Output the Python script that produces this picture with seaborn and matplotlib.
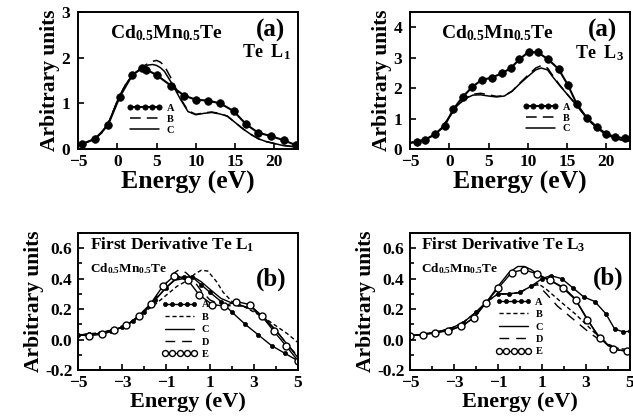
import numpy as np
import pandas as pd
import matplotlib
matplotlib.use("Agg")
import matplotlib.pyplot as plt
import seaborn as sns
from matplotlib.ticker import MultipleLocator, FormatStrFormatter

# ---------------- data: panel (a) Te L1 ----------------
l1_A_E = [-4.5, -2.8, -1.2, 0.3, 1.9, 3.2, 3.7, 5.0, 6.8, 8.5, 10.0, 11.5, 13.1, 14.8, 16.4, 17.9, 19.6, 21.2, 22.8]
l1_A_v = [0.11, 0.22, 0.52, 1.14, 1.62, 1.78, 1.74, 1.62, 1.39, 1.17, 1.08, 1.06, 1.0, 0.83, 0.54, 0.36, 0.28, 0.19, 0.08]
l1_BC_E = [-5, -4, -3, -2, -1, 0, 1, 2, 3, 4, 4.5, 5, 5.5, 6, 7, 8, 9, 10, 11, 12, 13, 14, 15, 16, 17, 18, 19, 20, 21, 22, 23]
l1_C_v = [0.08, 0.14, 0.22, 0.35, 0.62, 1.05, 1.4, 1.62, 1.76, 1.84, 1.85, 1.83, 1.78, 1.7, 1.42, 1.1, 0.82, 0.75, 0.78, 0.8, 0.77, 0.72, 0.58, 0.44, 0.32, 0.22, 0.16, 0.12, 0.08, 0.06, 0.04]
l1_B_v = [0.08, 0.14, 0.22, 0.35, 0.62, 1.05, 1.4, 1.63, 1.78, 1.88, 1.92, 1.94, 1.9, 1.82, 1.5, 1.12, 0.84, 0.76, 0.79, 0.81, 0.78, 0.72, 0.58, 0.44, 0.32, 0.22, 0.16, 0.12, 0.08, 0.06, 0.04]

# ---------------- data: panel (a) Te L3 ----------------
l3_A_E = [-5, -4.15, -3.1, -1.8, -0.6, 0.5, 1.7, 2.9, 4.1, 5.4, 6.7, 7.8, 8.9, 10.1, 11.3, 12.6, 13.9, 15.1, 16.2, 17.5, 18.8, 20.0, 21.1, 22.3, 23]
l3_A_v = [0.2, 0.24, 0.3, 0.49, 0.76, 1.3, 1.71, 2.03, 2.27, 2.34, 2.49, 2.65, 2.94, 3.19, 3.17, 2.94, 2.63, 2.1, 1.49, 1.02, 0.72, 0.49, 0.4, 0.35, 0.33]
l3_BC_E = [-5, -4, -3, -2, -1, 0, 1, 2, 3, 4, 5, 6, 7, 8, 9, 10, 11, 11.7, 12.5, 13.2, 14, 15, 16, 17, 18, 19, 20, 21, 22, 23]
l3_C_v = [0.2, 0.25, 0.32, 0.45, 0.68, 1.05, 1.42, 1.65, 1.77, 1.78, 1.74, 1.71, 1.74, 1.9, 2.15, 2.38, 2.6, 2.66, 2.6, 2.36, 2.1, 1.8, 1.5, 1.18, 0.88, 0.65, 0.47, 0.36, 0.29, 0.25]
l3_B_v = [0.2, 0.25, 0.32, 0.45, 0.68, 1.05, 1.42, 1.66, 1.8, 1.83, 1.78, 1.73, 1.75, 1.9, 2.17, 2.42, 2.66, 2.74, 2.66, 2.4, 2.12, 1.8, 1.5, 1.18, 0.88, 0.65, 0.47, 0.36, 0.29, 0.25]

# ---------------- data: panel (b) first derivative Te L1 ----------------
d1_A_E = [-5, -4.5, -4, -3.5, -3, -2.5, -2, -1.5, -1, -0.5, -0.2, 0.2, 0.6, 1, 1.5, 2, 2.6, 3.2, 3.8, 4.4, 5]
d1_A_v = [0.03, 0.035, 0.04, 0.055, 0.08, 0.12, 0.18, 0.26, 0.34, 0.41, 0.41, 0.41, 0.36, 0.31, 0.25, 0.18, 0.1, 0.03, -0.04, -0.09, -0.14]
d1_B_E = [-5, -4, -3, -2.5, -2, -1.5, -1, -0.5, 0, 0.3, 0.6, 0.9, 1.3, 1.6, 2, 2.5, 3, 3.5, 4, 4.5, 5]
d1_B_v = [0.03, 0.045, 0.08, 0.12, 0.18, 0.23, 0.29, 0.35, 0.39, 0.43, 0.455, 0.45, 0.38, 0.31, 0.25, 0.22, 0.18, 0.14, 0.09, 0.04, -0.02]
d1_C_E = [-5, -4, -3, -2.5, -2, -1.5, -1, -0.6, -0.2, 0.2, 0.6, 1, 1.5, 2, 2.5, 3, 3.5, 4, 4.5, 5]
d1_C_v = [0.03, 0.04, 0.08, 0.12, 0.18, 0.26, 0.34, 0.39, 0.4, 0.415, 0.38, 0.33, 0.27, 0.24, 0.22, 0.2, 0.14, 0.06, -0.03, -0.12]
d1_D_E = [-5, -4, -3, -2.5, -2, -1.5, -1, -0.7, -0.4, -0.1, 0.2, 0.6, 1, 1.5, 2, 2.5, 3, 3.5, 4, 4.5, 5]
d1_D_v = [0.03, 0.04, 0.08, 0.12, 0.18, 0.27, 0.37, 0.43, 0.46, 0.44, 0.4, 0.32, 0.26, 0.23, 0.22, 0.22, 0.19, 0.13, 0.06, -0.03, -0.11]
d1_E_E = [-5, -4.5, -3.9, -3.35, -2.8, -2.25, -1.7, -1.15, -0.62, 0.0, 0.5, 1.1, 1.65, 2.2, 2.8, 3.35, 3.9, 4.45, 5.0]
d1_E_v = [0.03, 0.025, 0.035, 0.06, 0.095, 0.155, 0.235, 0.35, 0.42, 0.39, 0.295, 0.23, 0.22, 0.25, 0.23, 0.155, 0.055, -0.04, -0.14]

# ---------------- data: panel (b) first derivative Te L3 ----------------
d3_A_E = [-5, -4.4, -3.8, -3.2, -2.6, -2, -1.5, -1, -0.5, 0, 0.5, 1, 1.4, 1.9, 2.4, 2.9, 3.4, 3.9, 4.3, 4.7, 5]
d3_A_v = [0.025, 0.035, 0.05, 0.07, 0.11, 0.18, 0.25, 0.3, 0.3, 0.31, 0.35, 0.4, 0.42, 0.4, 0.34, 0.28, 0.25, 0.17, 0.07, 0.05, 0.055]
d3_B_E = [-5, -4.4, -3.8, -3.2, -2.6, -2, -1.5, -1, -0.5, 0, 0.5, 0.8, 1.2, 1.6, 2, 2.5, 3, 3.5, 4, 4.5, 5]
d3_B_v = [0.025, 0.035, 0.05, 0.07, 0.11, 0.18, 0.25, 0.3, 0.3, 0.31, 0.35, 0.37, 0.33, 0.28, 0.23, 0.17, 0.1, 0.03, -0.03, -0.06, -0.065]
d3_D_E = [-5, -4.4, -3.8, -3.2, -2.6, -2, -1.5, -1, -0.5, 0, 0.5, 0.8, 1.2, 1.7, 2.2, 2.7, 3.2, 3.7, 4.2, 4.6, 5]
d3_D_v = [0.025, 0.035, 0.05, 0.07, 0.11, 0.18, 0.25, 0.3, 0.3, 0.31, 0.35, 0.36, 0.3, 0.22, 0.16, 0.1, 0.04, -0.01, -0.05, -0.07, -0.08]
d3_C_E = [-5, -4, -3, -2.5, -2, -1.5, -1, -0.5, -0.1, 0.2, 0.5, 1, 1.5, 2, 2.5, 3, 3.5, 4, 4.5, 5]
d3_C_v = [0.025, 0.04, 0.07, 0.1, 0.16, 0.25, 0.35, 0.44, 0.48, 0.48, 0.46, 0.41, 0.38, 0.34, 0.27, 0.15, 0.03, -0.04, -0.07, -0.075]
d3_E_E = [-5, -4.42, -3.86, -3.26, -2.68, -2.1, -1.56, -0.98, -0.38, 0.18, 0.79, 1.36, 1.94, 2.53, 3.06, 3.64, 4.24, 4.85, 5.0]
d3_E_v = [0.025, 0.033, 0.044, 0.058, 0.09, 0.14, 0.24, 0.34, 0.44, 0.46, 0.43, 0.39, 0.34, 0.26, 0.13, 0.01, -0.065, -0.075, -0.075]

sns.set_theme(style="ticks")
plt.rcParams.update({
    "font.family": ["Liberation Serif", "DejaVu Serif"],
    "font.weight": "bold",
    "axes.labelweight": "bold",
    "mathtext.fontset": "custom",
    "mathtext.rm": "Liberation Serif:bold",
    "mathtext.bf": "Liberation Serif:bold",
    "mathtext.it": "Liberation Serif:bold",
    "axes.linewidth": 1.4,
    "axes.edgecolor": "black",
    "xtick.direction": "in",
    "ytick.direction": "in",
    "xtick.color": "black",
    "ytick.color": "black",
    "text.color": "black",
    "axes.labelcolor": "black",
})

fig = plt.figure(figsize=(6.33, 4.2), dpi=100)
W = 220 / 633
H = 137 / 420
ax1 = fig.add_axes([78 / 633, 1 - 149 / 420, W, H])
ax2 = fig.add_axes([410 / 633, 1 - 149 / 420, W, H])
ax3 = fig.add_axes([78 / 633, 1 - 370 / 420, W, H])
ax4 = fig.add_axes([410 / 633, 1 - 370 / 420, W, H])


def draw(ax, x, y, label, **kw):
    sns.lineplot(x=x, y=y, ax=ax, color="black", label=label, sort=False,
                 estimator=None, **kw)


big_dot = dict(marker="o", markersize=5.5, markerfacecolor="black",
               markeredgecolor="black", markeredgewidth=0.5)
small_dot = dict(marker="o", markersize=3, markerfacecolor="black",
                 markeredgecolor="black", markeredgewidth=0.5)
open_c = dict(marker="o", markersize=5, markerfacecolor="white",
              markeredgecolor="black", markeredgewidth=1.0)

# panel a, L1
draw(ax1, l1_A_E, l1_A_v, "A", linewidth=1.5, **big_dot)
draw(ax1, l1_BC_E, l1_B_v, "B", linewidth=1.1, linestyle=(0, (7, 4)))
draw(ax1, l1_BC_E, l1_C_v, "C", linewidth=1.1)

# panel a, L3
draw(ax2, l3_A_E, l3_A_v, "A", linewidth=1.5, markevery=slice(1, -1), **big_dot)
draw(ax2, l3_BC_E, l3_B_v, "B", linewidth=1.1, linestyle=(0, (7, 4)))
draw(ax2, l3_BC_E, l3_C_v, "C", linewidth=1.1)

# panel b, L1
draw(ax3, d1_A_E, d1_A_v, "A", linewidth=1.0, **small_dot)
draw(ax3, d1_B_E, d1_B_v, "B", linewidth=1.0, linestyle=(0, (3, 2)))
draw(ax3, d1_C_E, d1_C_v, "C", linewidth=1.0)
draw(ax3, d1_D_E, d1_D_v, "D", linewidth=1.0, linestyle=(0, (7, 5)))
draw(ax3, d1_E_E, d1_E_v, "E", linewidth=1.0, markevery=slice(1, None), **open_c)

# panel b, L3
draw(ax4, d3_A_E, d3_A_v, "A", linewidth=1.0, **small_dot)
draw(ax4, d3_B_E, d3_B_v, "B", linewidth=1.0, linestyle=(0, (3, 2)))
draw(ax4, d3_C_E, d3_C_v, "C", linewidth=1.0)
draw(ax4, d3_D_E, d3_D_v, "D", linewidth=1.0, linestyle=(0, (7, 5)))
draw(ax4, d3_E_E, d3_E_v, "E", linewidth=1.0, markevery=slice(0, -1), **open_c)

for ax in (ax1, ax2, ax3, ax4):
    ax.set_ylabel("Arbitrary units", fontsize=15.5, labelpad=1)
    ax.tick_params(which="both", top=False, right=False, labelsize=12.5,
                   width=1.2)
    ax.tick_params(axis="x", pad=3.5)
    ax.tick_params(axis="y", pad=4)
    ax.tick_params(which="major", length=4)
    ax.tick_params(which="minor", length=3)
    for s in ax.spines.values():
        s.set_visible(True)
        s.set_linewidth(1.4)

for ax, top in ((ax1, 3), (ax2, 4.5)):
    ax.set_xlim(-5, 23)
    ax.set_ylim(0, top)
    ax.xaxis.set_major_locator(MultipleLocator(5))
    ax.yaxis.set_major_locator(MultipleLocator(1))
    ax.tick_params(axis="y", pad=5.5)
    ax.set_xlabel("Energy (eV)", fontsize=18.5, labelpad=1)

for ax in (ax3, ax4):
    ax.set_xlim(-5, 5)
    ax.set_ylim(-0.2, 0.7)
    ax.set_xticks([-5, -3, -1, 1, 3, 5])
    ax.xaxis.set_minor_locator(MultipleLocator(1))
    ax.set_yticks([-0.2, 0.0, 0.2, 0.4, 0.6])
    ax.yaxis.set_minor_locator(MultipleLocator(0.1))
    ax.yaxis.set_major_formatter(FormatStrFormatter("%.1f"))
    ax.set_xlabel("Energy (eV)", fontsize=16, labelpad=1)

for ax in (ax1, ax2, ax3, ax4):
    for lab in ax.get_xticklabels() + ax.get_yticklabels():
        lab.set_fontweight("bold")

compound = r"Cd$_{0.5}$Mn$_{0.5}$Te"
ax1.text(0.145, 0.847, compound, transform=ax1.transAxes, fontsize=14, va="center", ha="left")
ax1.text(0.873, 0.863, "(a)", transform=ax1.transAxes, fontsize=18, va="center", ha="center")
ax1.text(0.744, 0.71, r"Te  L$_1$", transform=ax1.transAxes, fontsize=13, va="center", ha="left")
ax2.text(0.141, 0.847, compound, transform=ax2.transAxes, fontsize=14, va="center", ha="left")
ax2.text(0.877, 0.863, "(a)", transform=ax2.transAxes, fontsize=18, va="center", ha="center")
ax2.text(0.749, 0.70, r"Te  L$_3$", transform=ax2.transAxes, fontsize=13, va="center", ha="left")

ax3.text(0.055, 0.912, r"First Derivative Te L$_1$", transform=ax3.transAxes, fontsize=12.5, va="center", ha="left")
ax3.text(0.055, 0.742, compound, transform=ax3.transAxes, fontsize=9.5, va="center", ha="left")
ax3.text(0.88, 0.662, "(b)", transform=ax3.transAxes, fontsize=18, va="center", ha="center")
ax4.text(0.051, 0.912, r"First Derivative Te L$_3$", transform=ax4.transAxes, fontsize=12.5, va="center", ha="left")
ax4.text(0.051, 0.742, compound, transform=ax4.transAxes, fontsize=9.5, va="center", ha="left")
ax4.text(0.90, 0.67, "(b)", transform=ax4.transAxes, fontsize=18, va="center", ha="center")

leg_top = dict(frameon=False, fontsize=7.5, handlelength=3.4, handletextpad=0.4,
               labelspacing=0.15, borderpad=0, borderaxespad=0, loc="upper left",
               numpoints=5)
leg_bot = dict(leg_top, labelspacing=0.3)
legs = [
    (ax1.legend(bbox_to_anchor=(0.223, 0.33), **leg_top), 3.8),
    (ax2.legend(bbox_to_anchor=(0.514, 0.34), **leg_top), 3.8),
    (ax3.legend(bbox_to_anchor=(0.382, 0.51), **leg_bot), None),
    (ax4.legend(bbox_to_anchor=(0.39, 0.53), **leg_bot), None),
]
for leg, msize in legs:
    for t in leg.get_texts():
        t.set_fontweight("bold")
    for h in leg.legend_handles:
        if h.get_marker() not in (None, "None", ""):
            if msize is not None:
                h.set_markersize(msize)
            elif h.get_markerfacecolor() == "white":
                h.set_markersize(4.3)
            else:
                h.set_markersize(3)

fig.savefig("out.png", dpi=100)
